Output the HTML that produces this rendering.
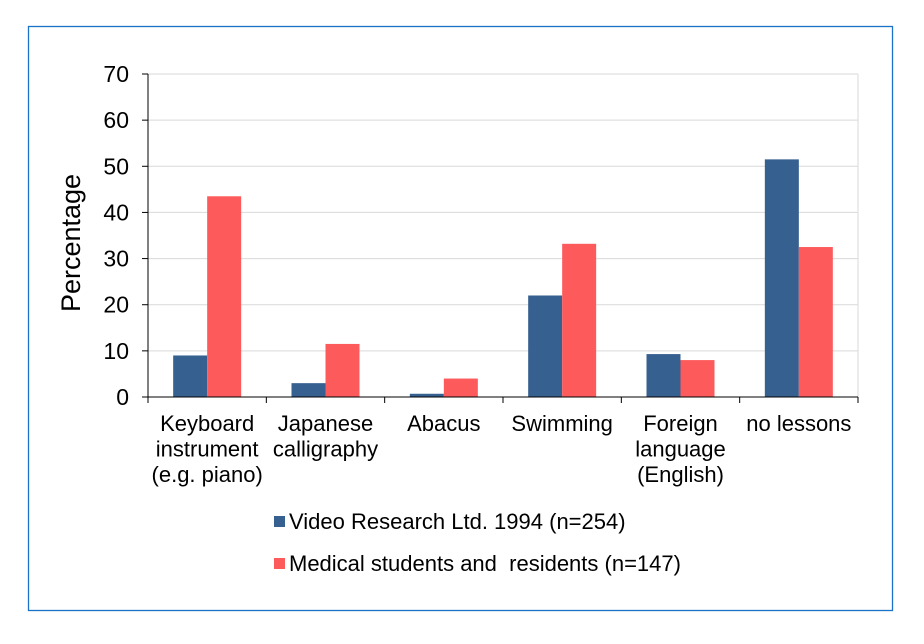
<!DOCTYPE html>
<html><head><meta charset="utf-8"><style>
body{margin:0;background:#fff;font-family:"Liberation Sans",Arial,sans-serif;}
svg text{font-family:"Liberation Sans",Arial,sans-serif;}
</style></head><body>
<svg id="chart" width="924" height="639" xmlns="http://www.w3.org/2000/svg">
<rect x="28.5" y="26.5" width="864" height="584" fill="#fff" stroke="#1a73c6" stroke-width="1.3"/>
<g id="grid"></g><g id="bars"></g><g id="axes"></g>
<text transform="translate(80,243) rotate(-90)" text-anchor="middle" font-size="27" fill="#000">Percentage</text>
<g>
<rect x="274" y="516" width="11" height="11" fill="#36608f"/>
<text x="289" y="529" font-size="22">Video Research Ltd. 1994 (n=254)</text>
<rect x="274" y="558" width="11" height="11" fill="#fd5a5b"/>
<text x="289" y="571" font-size="22" xml:space="preserve">Medical students and  residents (n=147)</text>
</g>
</svg>
<script>
const categories=[["Keyboard","instrument","(e.g. piano)"],["Japanese","calligraphy"],["Abacus"],["Swimming"],["Foreign","language","(English)"],["no lessons"]];
const videoResearch=[9,3,0.7,22,9.3,51.5];
const medical=[43.5,11.5,4,33.2,8,32.5];
const yTicks=[0,10,20,30,40,50,60,70];
const NS="http://www.w3.org/2000/svg";
const L=148,R=858,T=74,B=397,yMax=70;
const y=v=>B-(v/yMax)*(B-T);
const bw=(R-L)/categories.length;
const x=i=>L+bw*i;
function mk(tag,attrs,parent,txt){const e=document.createElementNS(NS,tag);for(const k in attrs)e.setAttribute(k,attrs[k]);if(txt!=null)e.textContent=txt;document.getElementById(parent).appendChild(e);return e;}
yTicks.forEach(t=>{
 if(t>0){const g=mk('line',{x1:L,x2:R,y1:y(t),y2:y(t),stroke:'#d9d9d9','stroke-width':1},'grid');
 
 }
 const tk=mk('line',{x1:L-6,x2:L,y1:y(t),y2:y(t),stroke:'#000'},'axes');
 
 
 const lb=mk('text',{x:L-19,y:y(t)+8,'text-anchor':'end','font-size':23},'axes',t);
 
 
});
const rg=mk('line',{x1:R,x2:R,y1:T,y2:B,stroke:'#d9d9d9'},'grid');


const barW=34;
categories.forEach((c,i)=>{
 const cx=x(i)+bw/2;
 const b1=mk('rect',{x:cx-barW,y:y(videoResearch[i]),width:barW,height:B-y(videoResearch[i]),fill:'#36608f'},'bars');
 
 
 const b2=mk('rect',{x:cx,y:y(medical[i]),width:barW,height:B-y(medical[i]),fill:'#fd5a5b'},'bars');
 
 
 c.forEach((ln,j)=>{
  const t=mk('text',{x:cx,y:431+j*25.5,'text-anchor':'middle','font-size':22},'axes',ln);
  
  
 });
});
for(let i=0;i<=categories.length;i++){
 const tk=mk('line',{x1:x(i),x2:x(i),y1:B,y2:B+6,stroke:'#000'},'axes');
 
 
}
const ya=mk('line',{x1:L,x2:L,y1:T,y2:B,stroke:'#000'},'axes');


const xa=mk('line',{x1:L,x2:R,y1:B,y2:B,stroke:'#000'},'axes');


</script>
</body></html>
